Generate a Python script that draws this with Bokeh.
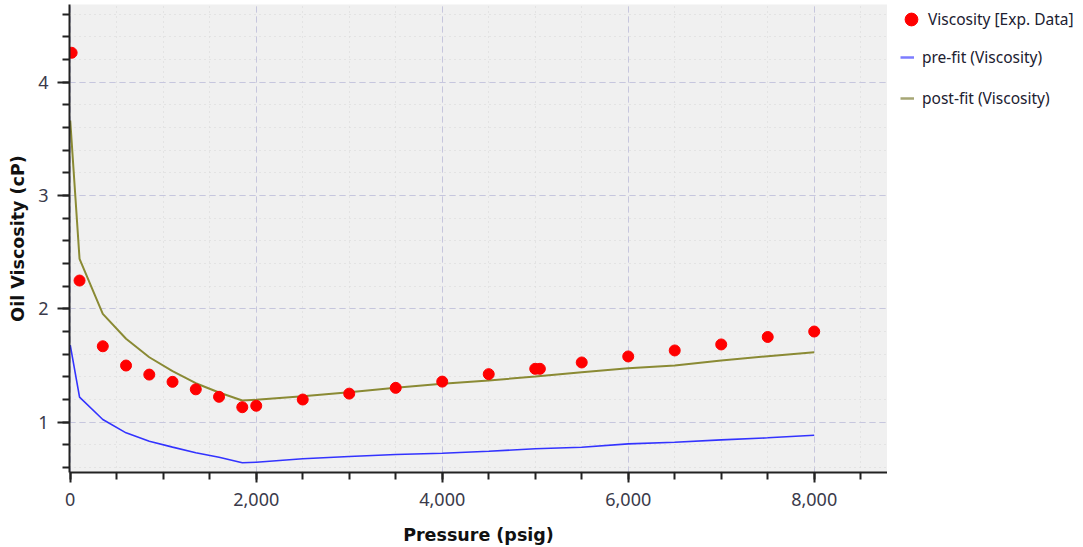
from bokeh.plotting import figure
from bokeh.layouts import row
from bokeh.models import (Range1d, Legend, LegendItem, NumeralTickFormatter,
                          SingleIntervalTicker, ColumnDataSource)
from bokeh.embed import file_html
from bokeh.resources import INLINE

# ---------------- data ----------------
exp_pressure = [15, 100, 350, 600, 850, 1100, 1350, 1600, 1850, 2000, 2500, 3000,
                3500, 4000, 4500, 5000, 5050, 5500, 6000, 6500, 7000, 7500, 8000]
exp_viscosity = [4.26, 2.25, 1.67, 1.50, 1.42, 1.356, 1.29, 1.224, 1.132, 1.145, 1.20, 1.252,
                 1.303, 1.358, 1.424, 1.471, 1.471, 1.527, 1.580, 1.633, 1.686, 1.752, 1.800]

line_pressure = [0, 100, 350, 600, 850, 1100, 1350, 1600, 1850, 2000, 2500, 3000,
                 3500, 4000, 4500, 5000, 5500, 6000, 6500, 7000, 7500, 8000]
prefit_viscosity = [1.68, 1.221, 1.024, 0.906, 0.832, 0.780, 0.730, 0.691, 0.642, 0.647,
                    0.677, 0.697, 0.715, 0.726, 0.744, 0.765, 0.779, 0.809, 0.823, 0.844,
                    0.862, 0.885]
postfit_viscosity = [3.662, 2.442, 1.956, 1.736, 1.573, 1.450, 1.344, 1.262, 1.191, 1.198,
                     1.229, 1.265, 1.303, 1.339, 1.368, 1.403, 1.441, 1.476, 1.500, 1.544,
                     1.582, 1.618]

legend_labels = ["Viscosity [Exp. Data]", "pre-fit (Viscosity)", "post-fit (Viscosity)"]
x_title = "Pressure (psig)"
y_title = "Oil Viscosity (cP)"

# ---------------- styles ----------------
RED = "#ff0000"
BLUE = "#3333ff"
OLIVE = "#8a8a34"
TICK_FONT = "Noto Sans"
TITLE_FONT = "DejaVu Sans"

exp_src = ColumnDataSource(dict(p=exp_pressure, v=exp_viscosity))
line_src = ColumnDataSource(dict(p=line_pressure, pre=prefit_viscosity, post=postfit_viscosity))

p = figure(width=887, height=547, output_backend="svg", toolbar_location=None,
           x_range=Range1d(-8, 8788), y_range=Range1d(0.556, 4.686),
           min_border_left=69, min_border_right=0, min_border_top=4, min_border_bottom=75)

p.background_fill_color = "#f0f0f0"
p.border_fill_color = "white"
p.outline_line_color = None

p.xaxis.ticker = SingleIntervalTicker(interval=2000, num_minor_ticks=4)
p.yaxis.ticker = SingleIntervalTicker(interval=1, num_minor_ticks=5)
p.xaxis.formatter = NumeralTickFormatter(format="0,0")
p.yaxis.formatter = NumeralTickFormatter(format="0")

for ax in (p.xaxis, p.yaxis):
    ax.axis_line_color = "#222222"
    ax.axis_line_width = 2
    ax.major_tick_line_color = "#222222"
    ax.major_tick_line_width = 2
    ax.minor_tick_line_color = "#222222"
    ax.minor_tick_line_width = 2
    ax.major_tick_in = 0
    ax.minor_tick_in = 0
    ax.minor_tick_out = 7
    ax.major_label_text_font = TICK_FONT
    ax.major_label_text_font_size = "18px"
    ax.major_label_text_color = "#3a3a4a"
    ax.axis_label_text_font = TITLE_FONT
    ax.axis_label_text_font_size = "17.5px"
    ax.axis_label_text_font_style = "bold"
    ax.axis_label_text_color = "#111111"

p.xaxis.major_tick_out = 10
p.xaxis.major_label_standoff = 10
p.xaxis.axis_label_standoff = 16
p.xaxis.axis_label = x_title

p.yaxis.major_tick_out = 12
p.yaxis.major_label_standoff = 9
p.yaxis.axis_label_standoff = 7
p.yaxis.axis_label = y_title

for g in (p.xgrid, p.ygrid):
    g.grid_line_color = "#c6c6de"
    g.grid_line_dash = "6 4"
    g.grid_line_width = 1
    g.minor_grid_line_color = "#d6d6d6"
    g.minor_grid_line_dash = "1 4"
    g.minor_grid_line_width = 1

p.line("p", "pre", source=line_src, line_color=BLUE, line_width=1.6)
p.line("p", "post", source=line_src, line_color=OLIVE, line_width=2)
p.scatter("p", "v", source=exp_src, marker="circle", size=11,
          fill_color=RED, line_color=RED)

# ---------------- legend panel ----------------
lg = figure(width=196, height=547, output_backend="svg", toolbar_location=None,
            x_axis_type=None, y_axis_type=None,
            x_range=Range1d(0, 1), y_range=Range1d(0, 1),
            min_border_left=0, min_border_right=0, min_border_top=4, min_border_bottom=75)
lg.outline_line_color = None
lg.background_fill_color = "white"
lg.border_fill_color = "white"
lg.grid.visible = False

nan = [float("nan")]
r_exp = lg.scatter(nan, nan, marker="circle", size=11, fill_color=RED, line_color=RED)
r_pre = lg.line(nan, nan, line_color="#7c7cff", line_width=2.5)
r_post = lg.line(nan, nan, line_color="#a6a674", line_width=2.5)

leg_a = Legend(items=[LegendItem(label=legend_labels[0], renderers=[r_exp])],
               location=(8, 437), glyph_width=32, glyph_height=32, label_height=32,
               label_standoff=1, padding=0, margin=0, spacing=0,
               border_line_color=None, background_fill_alpha=0,
               label_text_font=TICK_FONT, label_text_font_size="15.5px",
               label_text_color="#202030")
leg_b = Legend(items=[LegendItem(label=legend_labels[1], renderers=[r_pre]),
                      LegendItem(label=legend_labels[2], renderers=[r_post])],
               location=(13, 363), glyph_width=14, glyph_height=20, label_height=20,
               label_standoff=8, padding=0, margin=0, spacing=19,
               border_line_color=None, background_fill_alpha=0,
               label_text_font=TICK_FONT, label_text_font_size="15.5px",
               label_text_color="#202030")
lg.add_layout(leg_a)
lg.add_layout(leg_b)

layout = row(p, lg, spacing=0)
open("out.html", "w").write(file_html(layout, INLINE))
